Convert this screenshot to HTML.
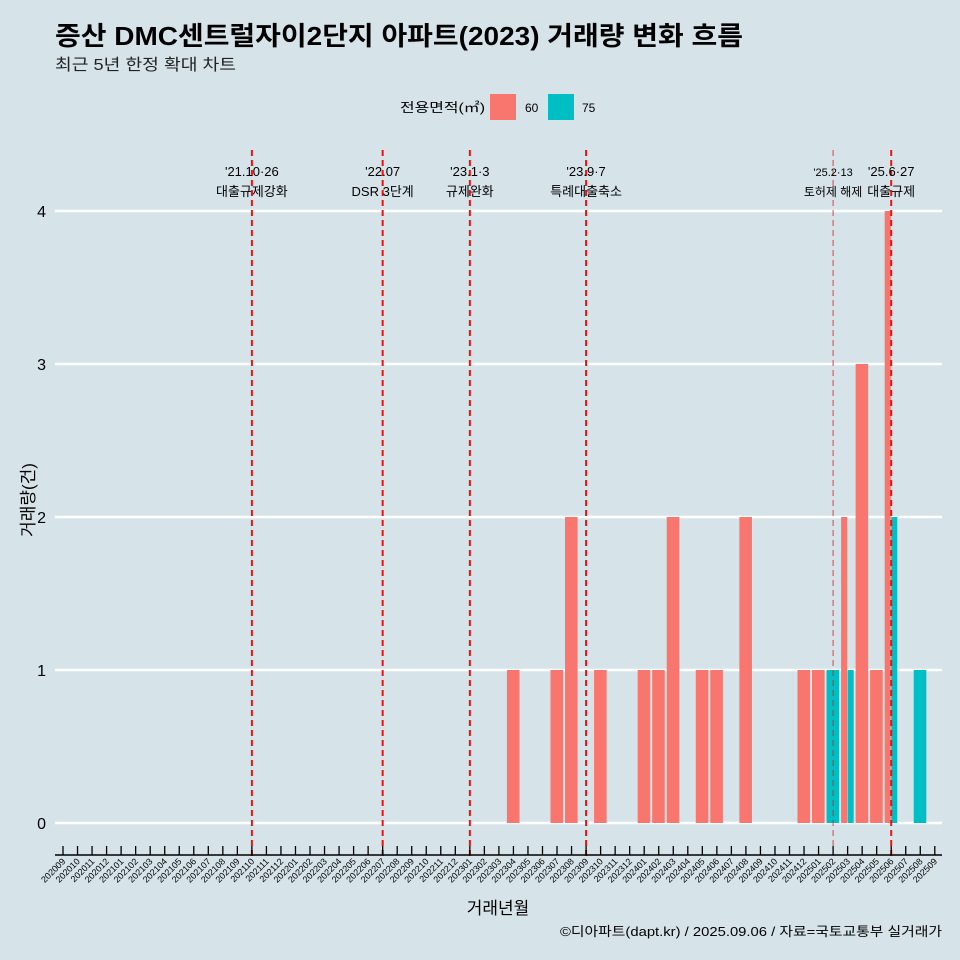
<!DOCTYPE html>
<html><head><meta charset="utf-8"><style>
body{margin:0;background:#d6e4ea;}
svg{display:block;font-family:"Liberation Sans","Noto Sans CJK KR",sans-serif;}
</style></head><body>
<svg id="c" width="960" height="960" xmlns="http://www.w3.org/2000/svg">
<rect width="960" height="960" fill="#d6e4ea"/>
<text x="55" y="45" font-size="26" font-weight="bold" fill="#000" textLength="688" lengthAdjust="spacingAndGlyphs">증산 DMC센트럴자이2단지 아파트(2023) 거래량 변화 흐름</text>
<text x="55" y="70" font-size="16" fill="#222" textLength="181" lengthAdjust="spacingAndGlyphs">최근 5년 한정 확대 차트</text>
<g>
<text x="400" y="112" font-size="13" textLength="85" lengthAdjust="spacingAndGlyphs">전용면적(㎡)</text>
<rect x="490" y="94" width="26" height="26" fill="#f8766d"/>
<text x="525" y="112" font-size="12">60</text>
<rect x="548" y="94" width="26" height="26" fill="#00bfc4"/>
<text x="582" y="112" font-size="12">75</text>
</g>
<text transform="translate(34,500) rotate(-90)" text-anchor="middle" font-size="17">거래량(건)</text>
<text x="498" y="914" text-anchor="middle" font-size="17">거래년월</text>
<text x="560" y="936" font-size="13" textLength="382" lengthAdjust="spacingAndGlyphs">©디아파트(dapt.kr) / 2025.09.06 / 자료=국토교통부 실거래가</text>
<g id="grid"></g><g id="bars"></g><g id="events"></g><g id="axis"></g>
</svg>
<script>
const months=[];for(let y=2020,m=9;!(y===2025&&m===10);){months.push(''+y+(m<10?'0':'')+m);m++;if(m>12){m=1;y++;}}
const s60Months=['202304','202307','202308','202310','202401','202402','202403','202405','202406','202408','202412','202501','202503','202504','202505','202506'];
const s60Values=[1,1,2,1,1,1,2,1,1,2,1,1,2,3,1,4];
const s75Months=['202502','202503','202506','202508'];
const s75Values=[1,1,2,1];
const yTicks=[0,1,2,3,4];
const eventMonths=['202110','202207','202301','202309','202502','202506'];
const eventDates=["'21.10·26","'22.07","'23.1·3","'23.9·7","'25.2·13","'25.6·27"];
const eventNames=['대출규제강화','DSR 3단계','규제완화','특례대출축소','토허제 해제','대출규제'];

const NS='http://www.w3.org/2000/svg';
const step=14.53, x0=63;
const xS=m=>x0+months.indexOf(m)*step;
const yS=v=>823-v*153;
function mk(t,a,p){const e=document.createElementNS(NS,t);for(const k in a)e.setAttribute(k,a[k]);document.getElementById(p).appendChild(e);return e;}
yTicks.forEach(v=>{
 const l=mk('line',{x1:55,x2:942,y1:yS(v),y2:yS(v),stroke:'#fff','stroke-width':2.5},'grid');
 
 
 const t=mk('text',{x:46,y:yS(v)+6,'text-anchor':'end','font-size':16},'grid');t.textContent=v;
 
 
});
const bw=step*0.9;
function drawBar(m,v,col,slot,n,name){
 const w=bw/n, x=xS(m)-bw/2+slot*w;
 const r=mk('rect',{x:x,y:yS(v),width:w-0.5,height:yS(0)-yS(v),fill:col},'bars');
 
 
}
s60Months.forEach((m,i)=>{const both=s75Months.includes(m);drawBar(m,s60Values[i],'#f8766d',0,both?2:1,'bar-60-'+m);});
s75Months.forEach((m,i)=>{const both=s60Months.includes(m);drawBar(m,s75Values[i],'#00bfc4',both?1:0,both?2:1,'bar-75-'+m);});
eventMonths.forEach((m,i)=>{
 const x=xS(m), thin=m==='202502';
 const l=mk('line',{x1:x,x2:x,y1:150,y2:856,stroke:'#ee1111','stroke-width':thin?1:2,'stroke-dasharray':'6 4',opacity:thin?0.8:1},'events');
 
 
 const t1=mk('text',{x:x,y:176,'text-anchor':'middle','font-size':thin?11:13},'events');t1.textContent=eventDates[i];
 
 
 const t2=mk('text',{x:x,y:196,'text-anchor':'middle','font-size':thin?12:13},'events');t2.textContent=eventNames[i];
 
 
});
const ax=mk('line',{x1:55,x2:942,y1:855,y2:855,stroke:'#000','stroke-width':1.5},'axis');


months.forEach(m=>{
 const x=xS(m);
 const tk=mk('line',{x1:x,x2:x,y1:846,y2:855,stroke:'#000','stroke-width':1.3},'axis');
 
 
 const t=mk('text',{x:x+3,y:862,'text-anchor':'end','font-size':9,transform:`rotate(-45 ${x+3} 862)`},'axis');t.textContent=m;
 
 
});
</script>
</body></html>
